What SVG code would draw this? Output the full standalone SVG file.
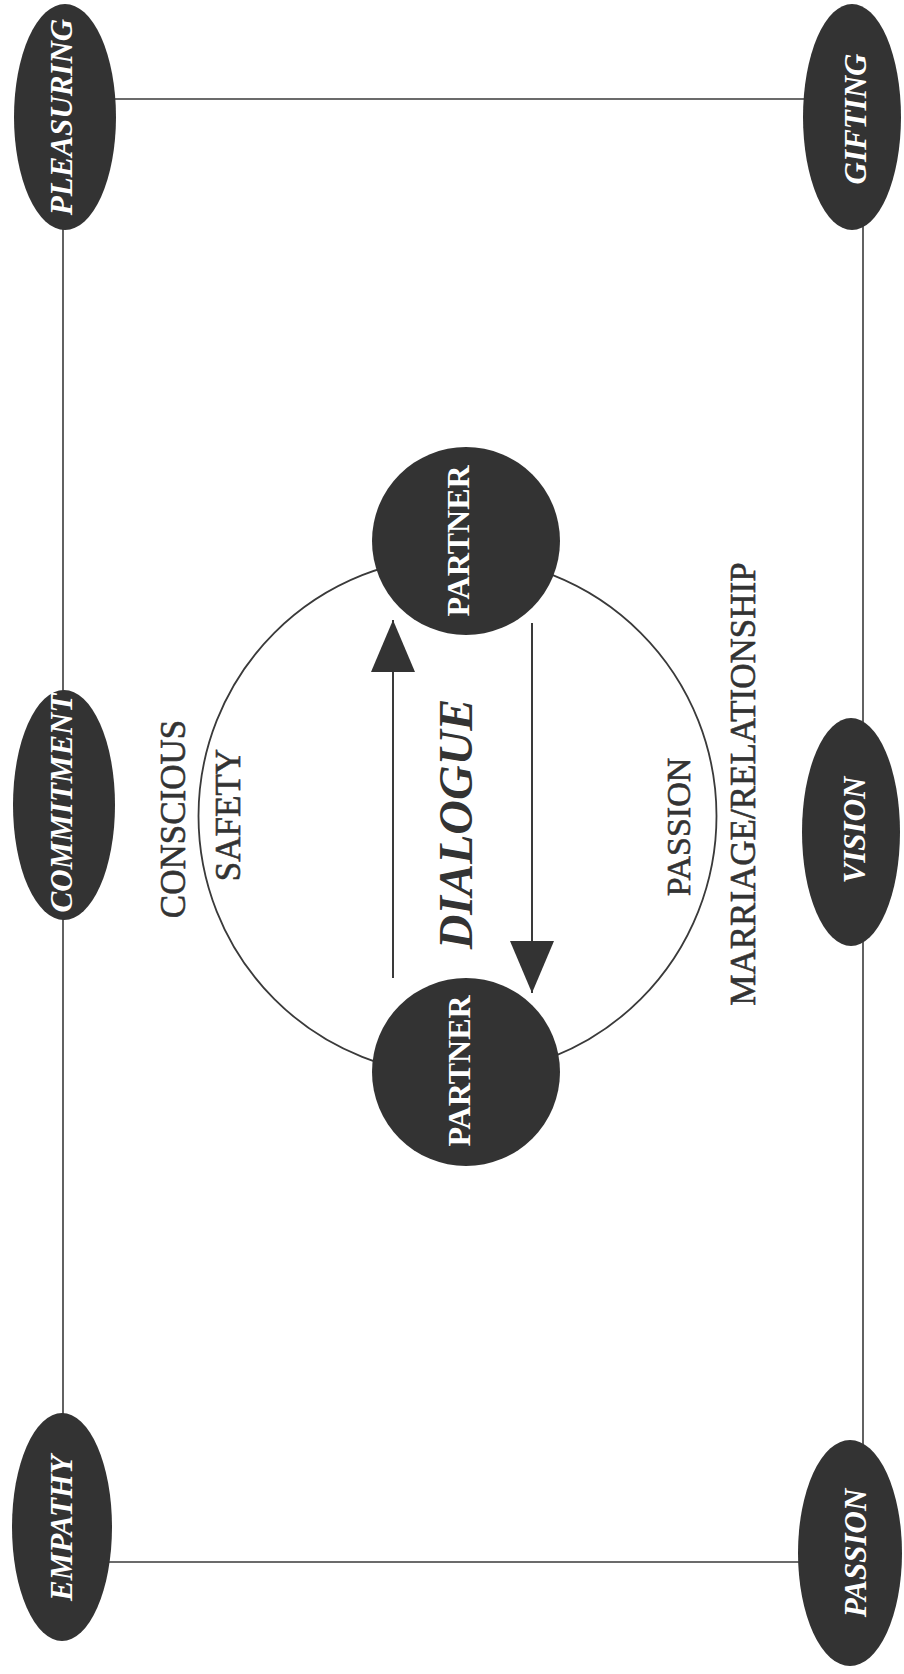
<svg xmlns="http://www.w3.org/2000/svg" width="904" height="1674" viewBox="0 0 904 1674">
<style>
.conn{stroke:#3a3a3a;stroke-width:1.6;fill:none}
.node{fill:#333333}
.lbl{font-family:"Liberation Serif","Times New Roman",serif;font-weight:bold;font-style:italic;font-size:31px;fill:#ffffff;text-anchor:middle}
.ptxt{font-family:"Liberation Serif","Times New Roman",serif;font-weight:bold;font-size:32px;fill:#ffffff;text-anchor:middle}
.txt{font-family:"Liberation Serif","Times New Roman",serif;font-size:35px;fill:#333333;stroke:#333333;stroke-width:0.6;text-anchor:middle}
.dlg{font-family:"Liberation Serif","Times New Roman",serif;font-weight:bold;font-style:italic;font-size:48px;fill:#333333;text-anchor:middle}
.ring{fill:none;stroke:#3a3a3a;stroke-width:1.8}
.arr{stroke:#3a3a3a;stroke-width:2;fill:none}
</style>
<defs>
<marker id="head" markerUnits="userSpaceOnUse" viewBox="0 0 52 44" refX="52" refY="22" markerWidth="52" markerHeight="44" orient="auto">
<path d="M0,0 L52,22 L0,44 Z" fill="#333333"/>
</marker>
</defs>
<rect width="904" height="1674" fill="#ffffff"/>
<g id="connectors">
<line class="conn" x1="65" y1="99" x2="852" y2="99"/>
<line class="conn" x1="62" y1="1562" x2="850" y2="1562"/>
<line class="conn" x1="63" y1="117" x2="63" y2="1527"/>
<line class="conn" x1="863" y1="117" x2="863" y2="1553"/>
<line class="arr" x1="393" y1="978" x2="393" y2="620" marker-end="url(#head)"/>
<line class="arr" x1="532" y1="623" x2="532" y2="993" marker-end="url(#head)"/>
</g>
<g id="relationship-ring">
<circle class="ring" cx="457.5" cy="816" r="259"/>
</g>
<g id="pleasuring">
<ellipse class="node" cx="65" cy="117" rx="51" ry="113"/>
<text class="lbl" transform="translate(72,117) rotate(-90)">PLEASURING</text>
</g>
<g id="gifting">
<ellipse class="node" cx="852" cy="117" rx="49" ry="113"/>
<text class="lbl" transform="translate(866,119) rotate(-90)">GIFTING</text>
</g>
<g id="commitment">
<ellipse class="node" cx="64" cy="805" rx="51" ry="115"/>
<text class="lbl" transform="translate(72,803) rotate(-90)">COMMITMENT</text>
</g>
<g id="vision">
<ellipse class="node" cx="851" cy="832" rx="49" ry="114"/>
<text class="lbl" transform="translate(865,830) rotate(-90)">VISION</text>
</g>
<g id="empathy">
<ellipse class="node" cx="62" cy="1527" rx="50" ry="114"/>
<text class="lbl" transform="translate(72,1528) rotate(-90)">EMPATHY</text>
</g>
<g id="passion-node">
<ellipse class="node" cx="850" cy="1553" rx="52" ry="113"/>
<text class="lbl" transform="translate(866,1553) rotate(-90)">PASSION</text>
</g>
<g id="partner-top">
<circle class="node" cx="466" cy="541" r="94"/>
<text class="ptxt" transform="translate(469,541) rotate(-90)">PARTNER</text>
</g>
<g id="partner-bottom">
<circle class="node" cx="466" cy="1072" r="94"/>
<text class="ptxt" transform="translate(470,1071) rotate(-90)">PARTNER</text>
</g>
<g id="labels">
<text class="txt" transform="translate(185,819) rotate(-90)">CONSCIOUS</text>
<text class="txt" transform="translate(240,815) rotate(-90)">SAFETY</text>
<text class="dlg" transform="translate(472,824) rotate(-90)">DIALOGUE</text>
<text class="txt" style="font-size:34px" transform="translate(690,827) rotate(-90)">PASSION</text>
<text class="txt" transform="translate(755,784) rotate(-90)">MARRIAGE/RELATIONSHIP</text>
</g>
</svg>
